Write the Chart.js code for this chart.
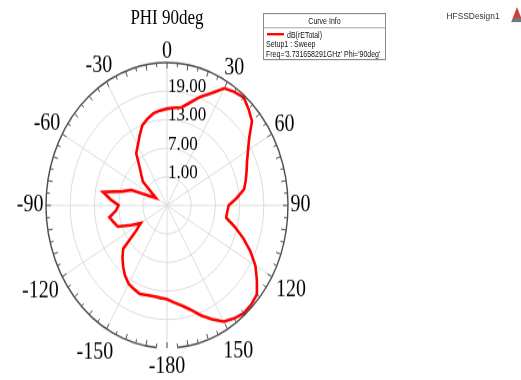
<!DOCTYPE html>
<html>
<head>
<meta charset="utf-8">
<script src="https://cdn.jsdelivr.net/npm/chart.js@4/dist/chart.umd.min.js"></script>
<style>
  html, body { margin: 0; padding: 0; background: #fff; width: 521px; height: 380px; overflow: hidden; }
  #stage { position: absolute; left: 0; top: 0; width: 521px; height: 322px; transform-origin: 0 0; transform: scaleY(1.1801); }
  #plot { position: absolute; left: 0; top: 0; }
  .title { position: absolute; left: 67px; top: 5.5px; width: 200px; text-align: center; font: 17px/17px "Liberation Serif", serif; color: #000; white-space: nowrap; }
  .legend { position: absolute; left: 263px; top: 11px; width: 121px; height: 38px; border: 1px solid #8a8a8a; background: #fff; font: 7px/7px "Liberation Sans", Arial, sans-serif; color: #111; }
  .legend div { position: absolute; white-space: nowrap; }
  .legend .head { left: 0; width: 121px; top: 2.2px; text-align: center; }
  .legend .sep { left: 0; width: 121px; top: 11px; height: 0; border-top: 1px solid #b5b5b5; }
  .legend .swatch { left: 3px; top: 16px; width: 17px; height: 0; border-top: 2px solid #ff0000; }
  .legend .name { left: 23px; top: 13.5px; }
  .legend .l2 { left: 2px; top: 21.5px; }
  .legend .l3 { left: 2px; top: 29.5px; }
  .design { position: absolute; left: 446.5px; top: 9.4px; font: 8.4px/8.4px "Liberation Sans", Arial, sans-serif; color: #333; white-space: nowrap; }
  .logo { position: absolute; left: 511px; top: 6px; width: 12px; height: 13px; clip-path: polygon(50% 0, 100% 100%, 0 100%); background: linear-gradient(180deg, #d23a3a 0%, #c84444 70%, #777 71%, #777 100%); }
</style>
</head>
<body>
<div id="stage">
  <canvas id="plot" width="521" height="322"></canvas>
  <div class="title">PHI 90deg</div>
  <div class="legend">
    <div class="head">Curve Info</div>
    <div class="sep"></div>
    <div class="swatch"></div>
    <div class="name">dB(rETotal)</div>
    <div class="l2">Setup1 : Sweep</div>
    <div class="l3">Freq='3.731658291GHz' Phi='90deg'</div>
  </div>
  <div class="design">HFSSDesign1</div>
  <div class="logo"></div>
</div>
<script>
// Theta in degrees, clockwise from the top of the plot
const thetaDeg = [
  0, 5, 10, 15, 20, 25, 30, 35, 40, 45, 50, 55,
  60, 65, 70, 75, 80, 85, 90, 95, 100, 105, 110, 115,
  120, 125, 130, 135, 140, 145, 150, 155, 160, 165, 170, 175,
  -180, -175, -170, -165, -160, -155, -150, -145, -140, -135, -130, -125,
  -120, -115, -110, -105, -100, -95, -90, -85, -80, -75, -70, -65,
  -60, -55, -50, -45, -40, -35, -30, -25, -20, -15, -10, -5
];

// dB(rETotal), Phi = 90deg
const rETotalDb = [
  15.3, 15.6, 15.9, 17.4, 19.3, 21.0, 23.4, 24.1, 24.6, 23.6, 22.5, 19.9,
  18.2, 16.9, 16.0, 15.2, 14.4, 12.3, 10.3, 10.0, 9.9, 12.4, 15.1, 17.8,
  20.3, 22.2, 24.1, 24.5, 24.6, 24.0, 23.2, 21.4, 19.6, 17.7, 16.4, 15.5,
  14.7, 14.5, 14.4, 14.5, 14.8, 14.4, 14.0, 13.1, 11.9, 10.6, 9.2, 4.4,
  2.5, 4.8, 8.0, 8.7, 9.5, 7.7, 7.0, 9.0, 11.1, 6.4, 4.4, -0.4,
  -1.8, -0.4, 2.8, 4.0, 5.6, 8.3, 9.5, 11.1, 12.9, 13.8, 14.6, 15.0
];

// Radial axis
const radialMin = -5;
const radialMax = 25;
const radialStep = 6;
const ringLabels = [1, 7, 13, 19];
const angleLabelStep = 30;

const rimColor = '#4c4c4c';
const gridColor = '#dcdcdc';

// Rim, rim ticks, angle labels and ring values
const polarDecor = {
  id: 'polarDecor',
  beforeDatasetsDraw(chart) {
    const s = chart.scales.r;
    const ctx = chart.ctx;
    ctx.save();
    ctx.font = '17px "Liberation Serif", serif';
    ctx.fillStyle = '#000';
    ctx.textAlign = 'left';
    ctx.textBaseline = 'alphabetic';
    ringLabels.forEach(v => {
      const d = s.getDistanceFromCenterForValue(v);
      ctx.fillText(v.toFixed(2), s.xCenter + 1, s.yCenter - d + 1);
    });
    ctx.restore();
  },
  afterDraw(chart) {
    const s = chart.scales.r;
    const ctx = chart.ctx;
    const R = s.getDistanceFromCenterForValue(radialMax);
    const n = thetaDeg.length;
    ctx.save();
    // rim, open at the bottom around -180
    ctx.strokeStyle = rimColor;
    ctx.lineWidth = 1.4;
    ctx.beginPath();
    ctx.arc(s.xCenter, s.yCenter, R, (95 * Math.PI) / 180, (85 * Math.PI) / 180, false);
    ctx.stroke();
    // rim ticks every 5 degrees
    ctx.lineWidth = 1;
    for (let i = 0; i < n; i++) {
      const len = (thetaDeg[i] % 10 === 0) ? 5 : 3.5;
      const a = s.getPointPosition(i, R);
      const b = s.getPointPosition(i, R - len);
      ctx.beginPath();
      ctx.moveTo(a.x, a.y);
      ctx.lineTo(b.x, b.y);
      ctx.stroke();
    }
    // angle labels
    ctx.font = '20px "Liberation Serif", serif';
    ctx.fillStyle = '#000';
    ctx.textAlign = 'center';
    ctx.textBaseline = 'middle';
    for (let i = 0; i < n; i++) {
      if (thetaDeg[i] % angleLabelStep !== 0) continue;
      const txt = String(thetaDeg[i]);
      const w = ctx.measureText(txt).width;
      const h = 14;
      const t = (thetaDeg[i] * Math.PI) / 180;
      const gap = 2.5 + 6.5 * Math.max(0, -Math.cos(t));
      const dist = R + gap + Math.abs(Math.sin(t)) * w / 2 + Math.abs(Math.cos(t)) * h / 2;
      const p = s.getPointPosition(i, dist);
      ctx.fillText(txt, p.x, p.y);
    }
    ctx.restore();
  }
};

new Chart(document.getElementById('plot'), {
  type: 'radar',
  data: {
    labels: thetaDeg.map(String),
    datasets: [{
      label: 'dB(rETotal)',
      data: rETotalDb,
      borderColor: '#ff0000',
      backgroundColor: 'rgba(0,0,0,0)',
      borderWidth: 2.6,
      fill: false,
      pointRadius: 0,
      tension: 0
    }]
  },
  options: {
    responsive: false,
    animation: false,
    layout: { padding: { left: 46, right: 232, top: 52.5, bottom: 26.5 } },
    plugins: { legend: { display: false }, tooltip: { enabled: false } },
    scales: {
      r: {
        min: radialMin,
        max: radialMax,
        ticks: { stepSize: radialStep, display: false },
        pointLabels: { display: false },
        grid: {
          circular: true,
          lineWidth: 1,
          color: c => (c.tick && (c.tick.value === radialMin || c.tick.value === radialMax)) ? 'rgba(0,0,0,0)' : gridColor
        },
        angleLines: {
          color: gridColor,
          lineWidth: c => (thetaDeg[c.index] % angleLabelStep === 0 ? 1 : 0)
        }
      }
    }
  },
  plugins: [polarDecor]
});
</script>
</body>
</html>
